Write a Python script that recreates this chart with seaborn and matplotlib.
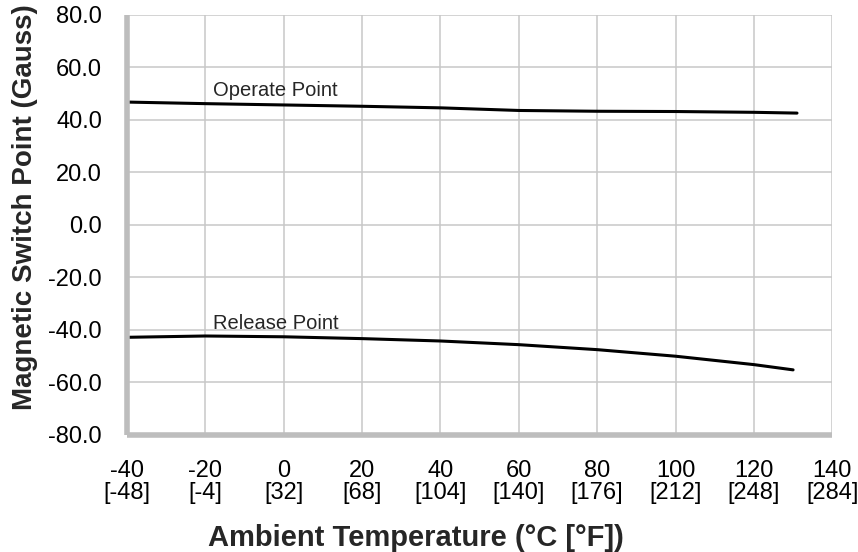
import numpy as np
import matplotlib.pyplot as plt
import seaborn as sns
import pandas as pd

# Values
temp_c = [-40, -20, 0, 20, 40, 60, 80, 100, 120, 130]
operate_temp = [-40, -20, 0, 20, 40, 60, 80, 100, 120, 131]
operate_gauss = [46.8, 46.2, 45.7, 45.2, 44.6, 43.6, 43.3, 43.2, 42.9, 42.6]
release_gauss = [-42.8, -42.3, -42.6, -43.3, -44.2, -45.6, -47.5, -50.0, -53.2, -55.2]

x_ticks = [-40, -20, 0, 20, 40, 60, 80, 100, 120, 140]
x_tick_f = [-48, -4, 32, 68, 104, 140, 176, 212, 248, 284]
y_ticks = [80, 60, 40, 20, 0, -20, -40, -60, -80]

df = pd.concat([
    pd.DataFrame({"temp": operate_temp, "gauss": operate_gauss, "series": "Operate Point"}),
    pd.DataFrame({"temp": temp_c, "gauss": release_gauss, "series": "Release Point"}),
])

sns.set_style("whitegrid")
plt.rcParams['font.family'] = ['Liberation Sans', 'DejaVu Sans']

fig = plt.figure(figsize=(8.58, 5.52), dpi=100)
ax = fig.add_axes([0.148, 0.212, 0.822, 0.761])

sns.lineplot(data=df, x="temp", y="gauss", units="series", estimator=None,
             color="black", linewidth=2.2, ax=ax)

grid_c = "#c8c8c8"
ax.set_xlim(-40, 140)
ax.set_ylim(-80, 80)
ax.set_xticks(x_ticks)
ax.set_xticklabels([f"{c}\n[{f}]" for c, f in zip(x_ticks, x_tick_f)], fontsize=17,
                   linespacing=1.0)
ax.set_yticks(y_ticks)
ax.set_yticklabels([f"{v:.1f}" for v in y_ticks], fontsize=17)
ax.grid(True, color=grid_c, linewidth=1.1)
ax.tick_params(axis="x", length=15, width=1.1, color=grid_c, pad=3, labelcolor="black")
ax.tick_params(axis="y", length=13, width=1.1, color=grid_c, pad=5, labelcolor="black")

for side in ["top", "right"]:
    ax.spines[side].set_visible(False)
for side in ["left", "bottom"]:
    ax.spines[side].set_color("#bdbdbd")
    ax.spines[side].set_linewidth(4)
    ax.spines[side].set_capstyle("butt")

ax.text(-18, 49, "Operate Point", fontsize=14.5)
ax.text(-18, -39.5, "Release Point", fontsize=14.5)

ax.set_xlabel("Ambient Temperature (°C [°F])", fontsize=21, fontweight="bold")
ax.set_ylabel("Magnetic Switch Point (Gauss)", fontsize=20, fontweight="bold")
ax.xaxis.set_label_coords(0.41, -0.212)
ax.yaxis.set_label_coords(-0.126, 0.542)
if ax.get_legend():
    ax.get_legend().remove()

fig.savefig("out.png", dpi=100)
